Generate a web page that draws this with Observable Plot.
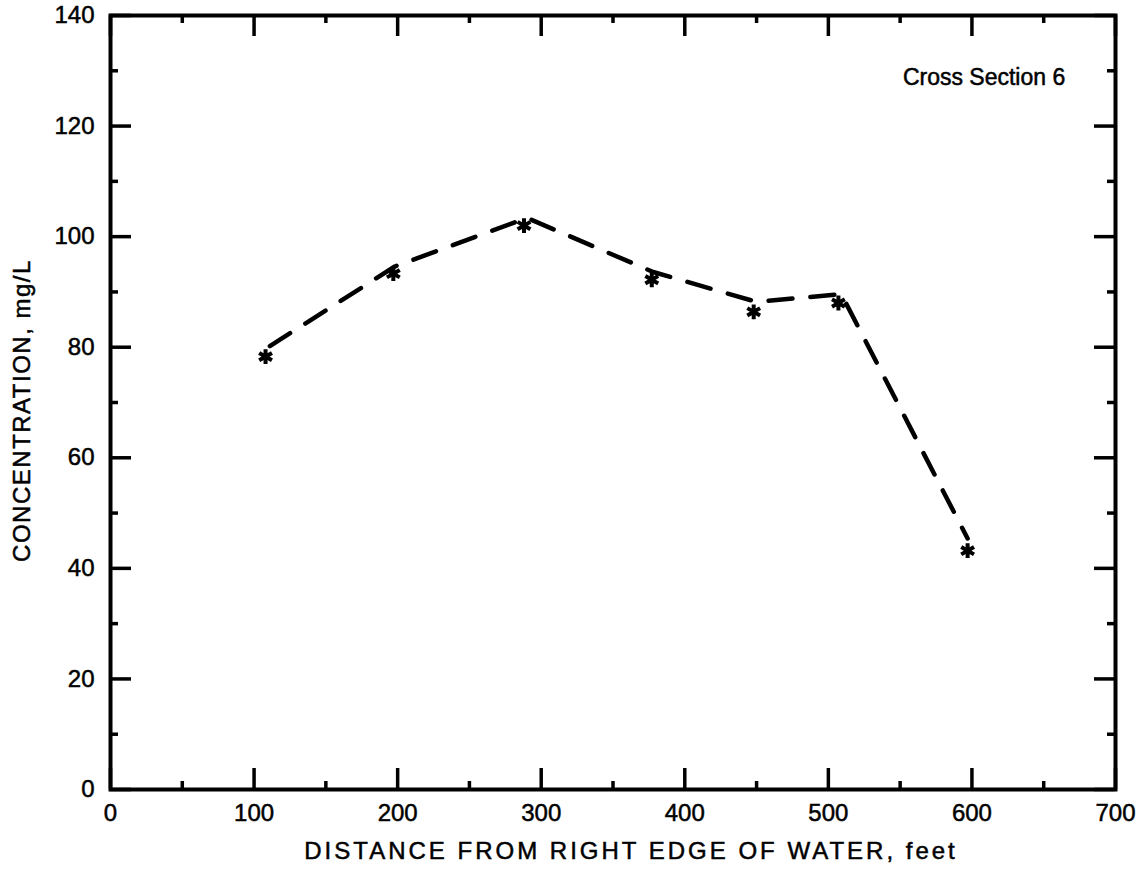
<!DOCTYPE html>
<html>
<head>
<meta charset="utf-8">
<script src="https://cdn.jsdelivr.net/npm/d3@7"></script>
<script src="https://cdn.jsdelivr.net/npm/@observablehq/plot@0.6"></script>
<style>
  html, body { margin: 0; padding: 0; background: #fff; }
  #chart svg { display: block; }
  #chart svg text { stroke: black; stroke-width: 0.5px; paint-order: stroke; }
</style>
</head>
<body>
<div id="chart"></div>
<script>
// Measured samples (asterisks)
const distance = [108, 197, 288, 377, 448, 507, 597];
const concentration = [78.3, 93.3, 102.0, 92.2, 86.4, 88.0, 43.2];
// Dashed curve vertices drawn on the original
const lineDistance = [111, 198, 290, 378, 450, 509, 597];
const lineConcentration = [80.2, 94.6, 103.4, 93.6, 88.2, 89.6, 45.4];

const xTicks = [0, 100, 200, 300, 400, 500, 600, 700];
const xMinor = [50, 150, 250, 350, 450, 550, 650];
const yTicks = [0, 20, 40, 60, 80, 100, 120, 140];
const yMinor = [10, 30, 50, 70, 90, 110, 130];

const xLabel = "DISTANCE FROM RIGHT EDGE OF WATER, feet";
const yLabel = "CONCENTRATION, mg/L";
const note = "Cross Section 6";

const points = distance.map((d, i) => ({x: d, y: concentration[i]}));
const curve = lineDistance.map((d, i) => ({x: d, y: lineConcentration[i]}));

// tick lengths in data units (major ~21px, minor ~8px)
const W = 1145, H = 876, mL = 110, mR = 30, mT = 15, mB = 87;
const pxX = 700 / (W - mL - mR), pxY = 140 / (H - mT - mB);
const majX = 21 * pxX, minX = 8 * pxX, majY = 21 * pxY, minY = 8 * pxY;

const font = "'Liberation Sans', Arial, Helvetica, sans-serif";

const chart = Plot.plot({
  width: W,
  height: H,
  marginLeft: mL,
  marginRight: mR,
  marginTop: mT,
  marginBottom: mB,
  style: {fontFamily: font, fontSize: "24px", color: "black", background: "white"},
  x: {domain: [0, 700], axis: null},
  y: {domain: [0, 140], axis: null},
  marks: [
    Plot.axisX({ticks: xTicks, tickSize: 0, tickPadding: 14, fontSize: 24, label: null, tickFormat: d => String(d)}),
    Plot.axisY({ticks: yTicks, tickSize: 0, tickPadding: 16, fontSize: 24, label: null, tickFormat: d => String(d), dy: 0}),
    // bottom / top ticks
    Plot.ruleX(xTicks, {x: d => d, y1: 0, y2: majY, stroke: "black", strokeWidth: 3.5}),
    Plot.ruleX(xMinor, {x: d => d, y1: 0, y2: minY, stroke: "black", strokeWidth: 3.5}),
    Plot.ruleX(xTicks, {x: d => d, y1: 140, y2: 140 - majY, stroke: "black", strokeWidth: 3.5}),
    Plot.ruleX(xMinor, {x: d => d, y1: 140, y2: 140 - minY, stroke: "black", strokeWidth: 3.5}),
    // left / right ticks
    Plot.ruleY(yTicks, {y: d => d, x1: 0, x2: majX, stroke: "black", strokeWidth: 3.5}),
    Plot.ruleY(yMinor, {y: d => d, x1: 0, x2: minX, stroke: "black", strokeWidth: 3.5}),
    Plot.ruleY(yTicks, {y: d => d, x1: 700, x2: 700 - majX, stroke: "black", strokeWidth: 3.5}),
    Plot.ruleY(yMinor, {y: d => d, x1: 700, x2: 700 - minX, stroke: "black", strokeWidth: 3.5}),
    Plot.frame({stroke: "black", strokeWidth: 4}),
    Plot.line(curve, {x: "x", y: "y", stroke: "black", strokeWidth: 4.5, strokeDasharray: "24,18", strokeLinecap: "round"}),
    Plot.dot(points, {x: "x", y: "y", symbol: "asterisk", r: 7, stroke: "black", strokeWidth: 4}),
    Plot.text([note], {x: 665, y: 128.8, text: d => d, textAnchor: "end", fontSize: 23, fill: "black"}),
    Plot.text([xLabel], {frameAnchor: "bottom", text: d => d, dy: 69, dx: 18, fontSize: 24, fill: "black"}),
    Plot.text([yLabel], {frameAnchor: "left", text: d => d, textAnchor: "middle", dx: -88, dy: 8, rotate: -90, fontSize: 24, fill: "black"})
  ]
});

d3.select(chart).selectAll("text")
  .filter(function() { return this.textContent === xLabel; })
  .style("letter-spacing", "3px");
d3.select(chart).selectAll("text")
  .filter(function() { return this.textContent === yLabel; })
  .style("letter-spacing", "1.5px");

document.getElementById("chart").appendChild(chart);
</script>
</body>
</html>
